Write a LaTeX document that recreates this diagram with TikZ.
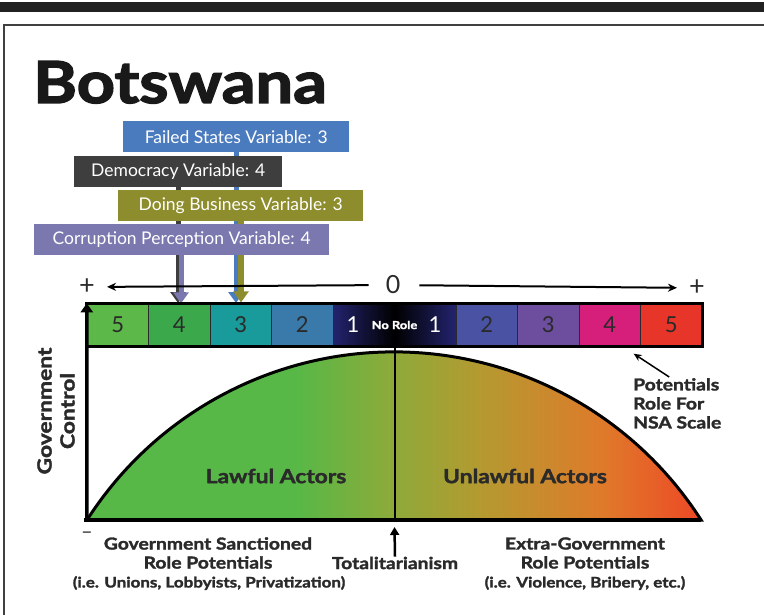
\documentclass[tikz,border=0pt]{standalone}
\usepackage{fontspec}
\setmainfont{Lato}
\newfontfamily\heavyfont{Lato}[BoldFeatures={FakeBold=1.8, FakeStretch=1.17}]
\newfontfamily\titlefont{Lato}[BoldFeatures={FakeBold=2.5, FakeStretch=1.15}]
\usetikzlibrary{arrows.meta,backgrounds}

\definecolor{failedblue}{HTML}{4B7BBF}
\definecolor{demgrey}{HTML}{3E3E3E}
\definecolor{busolive}{HTML}{8E8D2D}
\definecolor{corpurple}{HTML}{7B78B0}
\definecolor{inkgrey}{HTML}{2A2A2A}
\definecolor{lfive}{HTML}{5CB848}
\definecolor{lfour}{HTML}{3AA84B}
\definecolor{lthree}{HTML}{189B9A}
\definecolor{ltwo}{HTML}{3A7AAB}
\definecolor{navy}{HTML}{23236F}
\definecolor{rtwo}{HTML}{4A53A3}
\definecolor{rthree}{HTML}{6D4D9D}
\definecolor{rfour}{HTML}{D61F7B}
\definecolor{rfive}{HTML}{E8352A}
\definecolor{domegreen}{HTML}{57B847}
\definecolor{domeolive}{HTML}{8EAA3A}
\definecolor{domegold}{HTML}{B49A30}
\definecolor{domeorange}{HTML}{DF7A2A}
\definecolor{domered}{HTML}{EE4826}

\pgfdeclarehorizontalshading{dome}{100bp}{
    color(0bp)=(domegreen); color(25bp)=(domegreen);
    color(42bp)=(domegreen); color(50bp)=(domeolive);
    color(57bp)=(domegold); color(67bp)=(domeorange);
    color(75bp)=(domered); color(100bp)=(domered)}

\tikzset{
    varbox/.style={
           rectangle,
           anchor=north west,
           text=white,
           inner sep=0pt,
           minimum height=31pt,
           font=\fontsize{17.5}{19}\selectfont,
           },
    cell/.style={
           rectangle,
           draw=inkgrey, thin,
           minimum width=61.5pt,
           minimum height=43pt,
           inner sep=0pt,
           text=inkgrey,
           font=\fontsize{22}{24}\selectfont,
           },
    varline/.style={
           line width=5pt,
           -{Triangle[width=15pt,length=11pt]},
           },
    caption/.style={
           align=center,
           text=inkgrey,
           inner sep=1pt,
           font=\heavyfont\bfseries\fontsize{16.5}{19}\selectfont,
           },
    example/.style={
           text=inkgrey,
           inner sep=1pt,
           font=\heavyfont\bfseries\fontsize{14.5}{16}\selectfont,
           },
    sign/.style={
           inner sep=1pt,
           text=inkgrey,
           font=\fontsize{27}{28}\selectfont,
           },
}

\begin{document}
\begin{tikzpicture}[x=1pt, y=-1pt]
    \useasboundingbox (0,0) rectangle (764,615);

    % page decoration: black band and frame
    \fill[black!87] (0,2) rectangle (764,12);
    \draw[line width=2pt, black!75] (4,615) -- (4,25) -- (764,25);

    \node[anchor=base west, inner sep=0pt,
    font=\titlefont\bfseries\fontsize{58}{60}\selectfont, text=black!90] (title) 	% country name
    at (33,103) {Botswana};

    % the four variable boxes
    \node[varbox, fill=failedblue, minimum width=226pt] (failed)
    at (123,121) {Failed States Variable: 3};
    \node[varbox, fill=demgrey, minimum width=208pt] (democ)
    at (74,156) {Democracy Variable: 4};
    \node[varbox, fill=busolive, minimum width=245pt] (business)
    at (118,190) {Doing Business Variable: 3};
    \node[varbox, fill=corpurple, minimum width=295pt] (corrupt)
    at (34,224) {Corruption Perception Variable: 4};

    % scale: left side 5..2, centre, right side 2..5
    \node[cell, fill=lfive]  (l5) at (117.75,325) {5};
    \node[cell, fill=lfour]  (l4) at (179.25,325) {4};
    \node[cell, fill=lthree] (l3) at (240.75,325) {3};
    \node[cell, fill=ltwo]   (l2) at (302.25,325) {2};
    \node[cell, left color=navy, right color=navy, middle color=black,
    minimum width=123pt, text=white] (norole) at (394.5,325) {};
    \node[cell, fill=rtwo]   (r2) at (486.75,325) {2};
    \node[cell, fill=rthree] (r3) at (548.25,325) {3};
    \node[cell, fill=rfour]  (r4) at (609.75,325) {4};
    \node[cell, fill=rfive]  (r5) at (671.25,325) {5};

    \node[text=white, font=\fontsize{22}{24}\selectfont] (lone)
    at (353,325) {1};
    \node[text=white, font=\heavyfont\bfseries\fontsize{11}{12}\selectfont] (noroletext)
    at (norole) {No Role};
    \node[text=white, font=\fontsize{22}{24}\selectfont] (rone)
    at (435,325) {1};

    \draw[line width=3pt] (l5.north west) rectangle (r5.south east);

    % arrows from the boxes down to the scale (behind the boxes)
    \coordinate (tipdem) at (178,303);
    \coordinate (tipfail) at (236,303);
    \begin{scope}[on background layer]
        \draw[varline, draw=demgrey, fill=demgrey]
            (democ.south -| tipdem) -- (tipdem);
        \draw[varline, draw=corpurple, fill=corpurple]
            (corrupt.south -| tipdem) ++(3,0) -- ++(0,48);
        \draw[varline, draw=failedblue, fill=failedblue]
            (failed.south -| tipfail) -- (tipfail);
        \draw[varline, draw=busolive, fill=busolive, line width=6pt]
            (business.south -| tipfail) ++(5,0) -- ++(0,81);
    \end{scope}

    % + <---- 0 ----> +
    \node[sign] (plusL) at (87,287) {+};
    \node[sign, font=\fontsize{25}{26}\selectfont] (zero) at (393,285) {0};
    \node[sign] (plusR) at (697,288) {+};
    \path
        (zero)  edge[line width=2pt, -{Stealth[length=9pt,width=8pt]},
                     shorten <=16pt, shorten >=11pt]
        (plusL)
        (zero)  edge[line width=2pt, -{Stealth[length=9pt,width=8pt]},
                     shorten <=18pt, shorten >=11pt]
        (plusR)
        ;

    % government control axes and the dome
    \coordinate (origin) at (87,520);
    \coordinate (xend) at (701,520);

    \path[shading=dome, draw, line width=3pt]
        (origin) arc[start angle=147.4, end angle=32.6, radius=364.5pt]
        -- cycle;
    \draw[line width=2pt] (norole.south) -- (norole.south |- origin);
    \draw[line width=3.5pt] (xend) -- ([xshift=-3pt]origin);
    \draw[line width=3.5pt, -{Triangle[width=12pt,length=9pt]}]
        (origin) -- (l5.north west);

    \node[caption, font=\heavyfont\bfseries\fontsize{19.5}{22}\selectfont]
    (lawful) at (276,476) {Lawful Actors};
    \node[caption, font=\heavyfont\bfseries\fontsize{19.5}{22}\selectfont]
    (unlawful) at (525,476) {Unlawful Actors};

    \node[caption, rotate=90, font=\heavyfont\bfseries\fontsize{19.5}{23}\selectfont]
    (govctl) at (56,411) {Government\\Control};

    % note on the right
    \node[caption, align=left, anchor=north west]
    (nsa) at (632,377) {Potentials\\Role For\\NSA Scale};
    \draw[line width=1.5pt, -{Stealth[length=8pt,width=7pt]}]
        ([xshift=-8pt]nsa.north) -- ([xshift=-7pt,yshift=-7pt]r4.south east);

    % labels below the axis
    \node[sign, font=\fontsize{20}{22}\selectfont] (minus) at (87,535) {–};
    \node[caption] (sanct) at (208,553) {Government Sanctioned\\Role Potentials};
    \node[example] (sanctex) at (209,583)
    {(i.e. Unions, Lobbyists, Privatization)};

    \node[caption] (total) at (395,563) {Totalitarianism};
    \draw[line width=2.5pt, -{Triangle[width=9pt,length=8pt]}]
        ([yshift=-1pt]total.north) -- ([yshift=-7pt]norole.south |- origin);

    \node[caption] (extra) at (585,553) {Extra-Government\\Role Potentials};
    \node[example] (extraex) at (585,583) {(i.e. Violence, Bribery, etc.)};

\end{tikzpicture}
\end{document}
